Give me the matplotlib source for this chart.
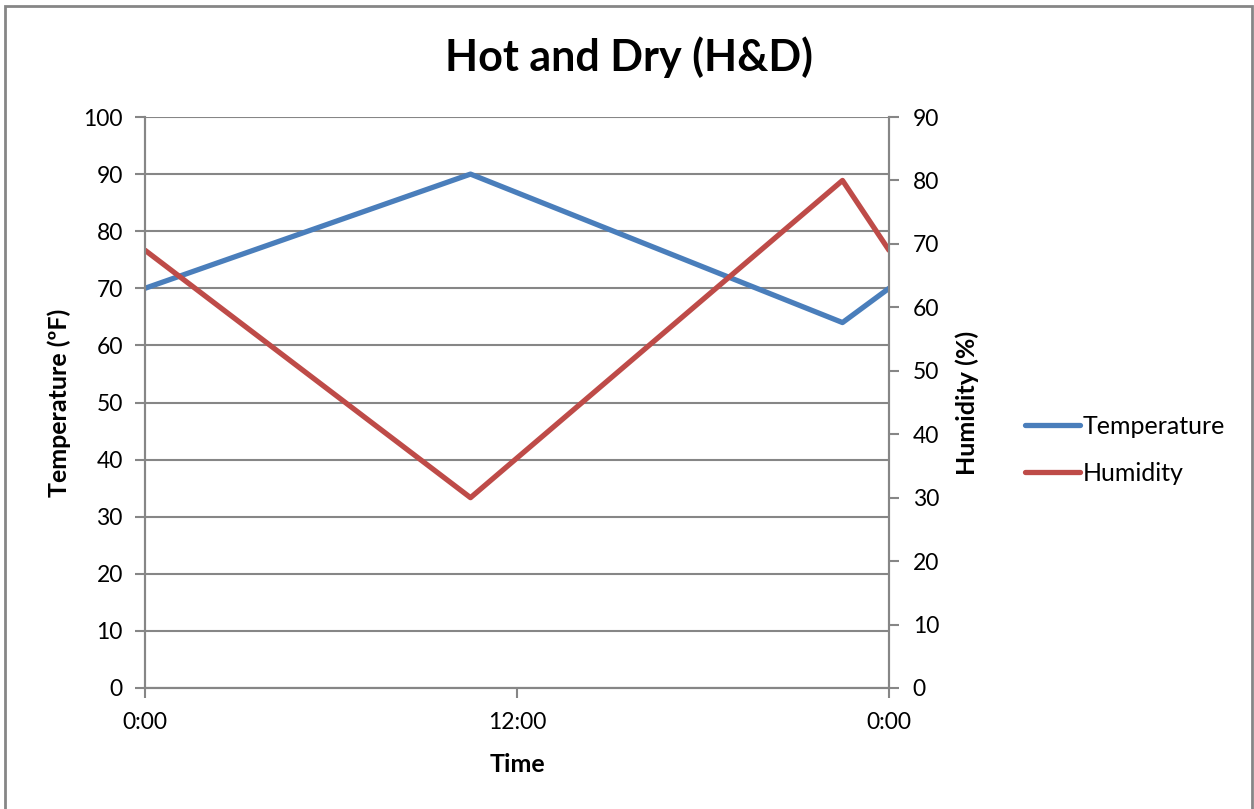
import matplotlib.pyplot as plt
from matplotlib.patches import Rectangle

# Readings over one day (hours since midnight)
hours = [0, 10.5, 22.5, 24]
temperature = [70, 90, 64, 70]   # deg F
humidity = [69, 30, 80, 69]      # percent

time_ticks = [0, 12, 24]
time_labels = ['0:00', '12:00', '0:00']

blue = '#4A7EBB'
red = '#BE4B48'
grey = '#868686'


def drawChart():
    plt.rc('font', family=['Lato', 'DejaVu Sans'])

    fig = plt.figure(figsize=(12.54, 8.09), dpi=100)
    ax1 = fig.add_axes([145 / 1254, 1 - 688 / 809, 744 / 1254, 571 / 809])
    ax2 = ax1.twinx()

    # Outer chart frame
    fig.patches.append(Rectangle((4.5 / 1254, -0.01), 1247 / 1254, 1 - 5.5 / 809 + 0.01,
                                 transform=fig.transFigure, fill=False,
                                 edgecolor=grey, linewidth=2))

    # Left axis: temperature
    ax1.set_xlim(0, 24)
    ax1.set_ylim(0, 100)
    ax1.set_yticks(range(0, 101, 10))
    ax1.set_xticks(time_ticks)
    ax1.set_xticklabels(time_labels)
    ax1.set_xlabel('Time', fontsize=18, fontweight='bold', labelpad=15)
    ax1.set_ylabel('Temperature (ºF)', fontsize=18, fontweight='bold', labelpad=9)

    # Right axis: humidity
    ax2.set_ylim(0, 90)
    ax2.set_yticks(range(0, 91, 10))
    ax2.set_ylabel('Humidity (%)', fontsize=18, fontweight='bold', labelpad=12)

    for ax in (ax1, ax2):
        ax.spines['top'].set_visible(False)
        for side in ('left', 'right', 'bottom'):
            ax.spines[side].set_color(grey)
            ax.spines[side].set_linewidth(1.5)
        ax.tick_params(labelsize=16.5, color=grey, width=1.5, length=7)
    ax1.tick_params(axis='x', pad=10)
    ax2.tick_params(axis='y', pad=10)
    ax1.tick_params(axis='y', pad=9)

    # Gridlines
    ax1.yaxis.grid(True, color=grey, linewidth=1.5)
    ax1.set_axisbelow(True)

    # Data lines
    l1, = ax1.plot(hours, temperature, color=blue, linewidth=3.8, solid_capstyle='round')
    l2, = ax2.plot(hours, humidity, color=red, linewidth=3.8, solid_capstyle='round')

    fig.legend(handles=[l1, l2], labels=['Temperature', 'Humidity'],
               loc='center left', bbox_to_anchor=(1025 / 1254, 1 - 450 / 809),
               frameon=False, fontsize=18, handlelength=2.2, handletextpad=0.1,
               labelspacing=0.95, borderpad=0, borderaxespad=0)

    fig.suptitle('Hot and Dry (H&D)', x=629 / 1254, y=1 - 57 / 809, va='center',
                 fontsize=31, fontweight='bold')

    fig.savefig('out.png', dpi=100)


drawChart()
